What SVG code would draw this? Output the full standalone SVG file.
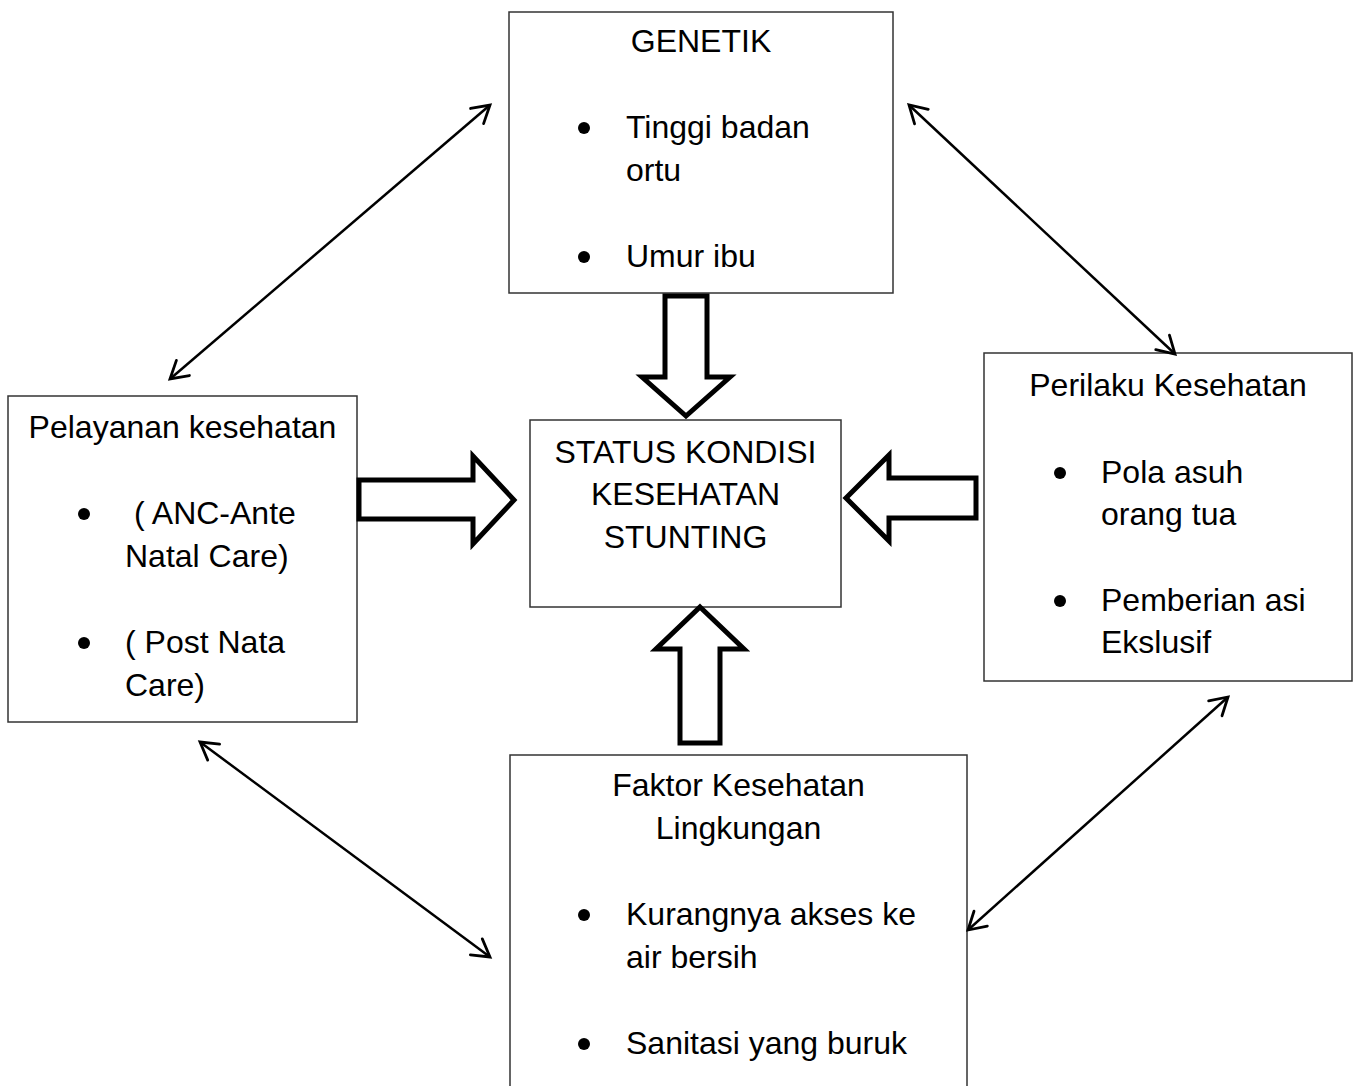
<svg xmlns="http://www.w3.org/2000/svg" width="1358" height="1086" viewBox="0 0 1358 1086">
<style>
.box{fill:#fff;stroke:#333;stroke-width:1.5}
.t{font-family:"Liberation Sans",Arial,sans-serif;font-size:32px;fill:#000}
.c{text-anchor:middle}
.blk{fill:#fff;stroke:#000;stroke-width:5;stroke-linejoin:miter}
.dbl{stroke:#000;stroke-width:2.5;fill:none;marker-start:url(#ah);marker-end:url(#ah)}
</style>
<defs>
<marker id="ah" markerUnits="userSpaceOnUse" viewBox="-22 -13 25 26" markerWidth="25" markerHeight="26" refX="0" refY="0" orient="auto-start-reverse">
<path d="M-17,-10 L0,0 L-17,10" fill="none" stroke="#000" stroke-width="2.8" stroke-linecap="round" stroke-linejoin="miter"/>
</marker>
</defs>
<rect width="1358" height="1086" fill="#fff"/>
<g id="genetik">
<rect class="box" x="509" y="12" width="384" height="281"/>
<text class="t c" x="701" y="52">GENETIK</text>
<circle cx="584" cy="128" r="6"/>
<text class="t" x="626" y="138">Tinggi badan</text>
<text class="t" x="626" y="181">ortu</text>
<circle cx="584" cy="257" r="6"/>
<text class="t" x="626" y="267">Umur ibu</text>
</g>
<g id="pelayanan">
<rect class="box" x="8" y="396" width="349" height="326"/>
<text class="t c" x="182.5" y="438">Pelayanan kesehatan</text>
<circle cx="84" cy="514" r="6"/>
<text class="t" x="134" y="524">( ANC-Ante</text>
<text class="t" x="125" y="567">Natal Care)</text>
<circle cx="84" cy="643" r="6"/>
<text class="t" x="125" y="653">( Post Nata</text>
<text class="t" x="125" y="696">Care)</text>
</g>
<g id="status">
<rect class="box" x="530" y="420" width="311" height="187"/>
<text class="t c" x="685.5" y="463">STATUS KONDISI</text>
<text class="t c" x="685.5" y="505">KESEHATAN</text>
<text class="t c" x="685.5" y="548">STUNTING</text>
</g>
<g id="perilaku">
<rect class="box" x="984" y="353" width="368" height="328"/>
<text class="t c" x="1168" y="396">Perilaku Kesehatan</text>
<circle cx="1060" cy="473" r="6"/>
<text class="t" x="1101" y="483">Pola asuh</text>
<text class="t" x="1101" y="525">orang tua</text>
<circle cx="1060" cy="601" r="6"/>
<text class="t" x="1101" y="611">Pemberian asi</text>
<text class="t" x="1101" y="653">Ekslusif</text>
</g>
<g id="faktor">
<rect class="box" x="510" y="755" width="457" height="340"/>
<text class="t c" x="738.5" y="796">Faktor Kesehatan</text>
<text class="t c" x="738.5" y="839">Lingkungan</text>
<circle cx="584" cy="915" r="6"/>
<text class="t" x="626" y="925">Kurangnya akses ke</text>
<text class="t" x="626" y="968">air bersih</text>
<circle cx="584" cy="1044" r="6"/>
<text class="t" x="626" y="1054">Sanitasi yang buruk</text>
</g>
<g id="connectors">
<polygon class="blk" points="665,296 707,296 707,377 730,377 686,416 642,377 665,377"/>
<polygon class="blk" points="359,480 473,480 473,456 514,500 473,544 473,519 359,519"/>
<polygon class="blk" points="846,498 889,455 889,478 976,478 976,518 889,518 889,541"/>
<polygon class="blk" points="700,607 744,649 720,649 720,743 680,743 680,649 656,649"/>
<line class="dbl" x1="170" y1="379" x2="490" y2="105"/>
<line class="dbl" x1="909" y1="105" x2="1175" y2="354"/>
<line class="dbl" x1="200" y1="742" x2="490" y2="957"/>
<line class="dbl" x1="1228" y1="697" x2="968" y2="930"/>
</g>
</svg>
